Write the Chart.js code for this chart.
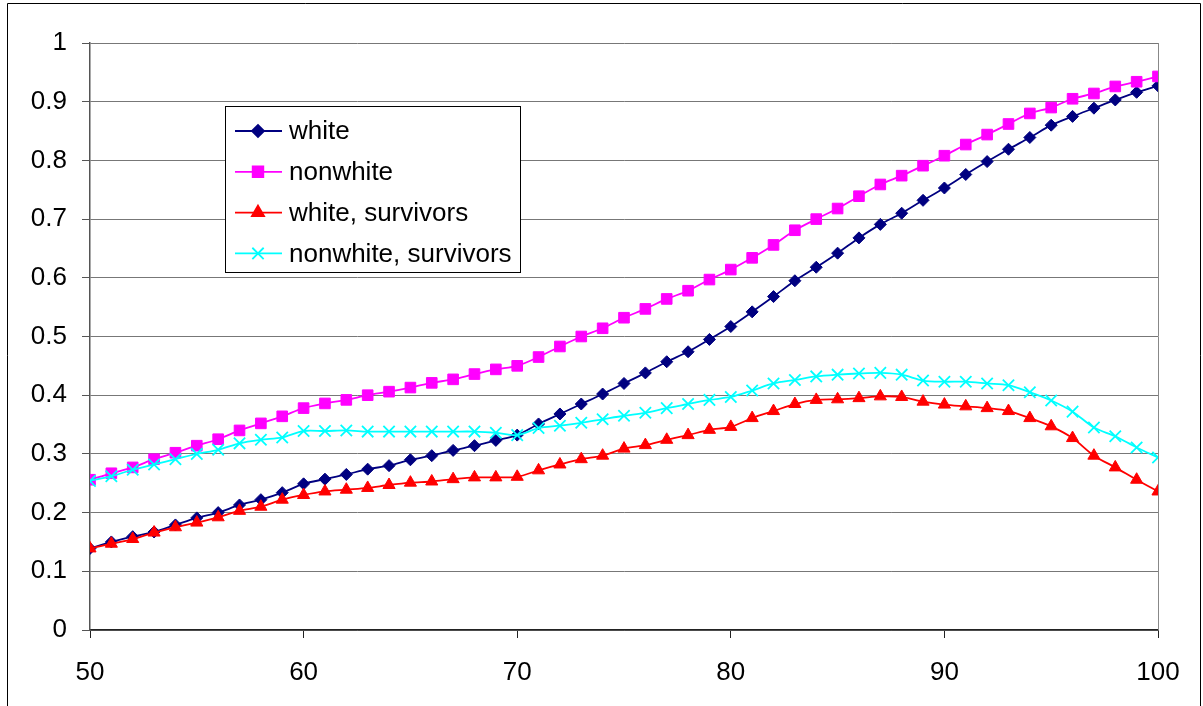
<!DOCTYPE html>
<html>
<head>
<meta charset="utf-8">
<script src="https://cdn.jsdelivr.net/npm/chart.js@4"></script>
<style>
  html, body { margin: 0; padding: 0; background: #fff; }
  canvas { display: block; }
</style>
</head>
<body>
<canvas id="chart" width="1203" height="706"></canvas>
<script>
// ages on the x axis
const ages = [
  50, 51, 52, 53, 54, 55, 56, 57, 58, 59,
  60, 61, 62, 63, 64, 65, 66, 67, 68, 69,
  70, 71, 72, 73, 74, 75, 76, 77, 78, 79,
  80, 81, 82, 83, 84, 85, 86, 87, 88, 89,
  90, 91, 92, 93, 94, 95, 96, 97, 98, 99, 100
]

const white = [
  0.139, 0.150, 0.159, 0.167, 0.179, 0.191, 0.200, 0.213, 0.222, 0.234,
  0.249, 0.257, 0.265, 0.274, 0.280, 0.290, 0.297, 0.306, 0.314, 0.323,
  0.332, 0.351, 0.368, 0.385, 0.402, 0.420, 0.438, 0.457, 0.474, 0.495,
  0.517, 0.542, 0.568, 0.595, 0.618, 0.642, 0.668, 0.691, 0.710, 0.732,
  0.753, 0.776, 0.798, 0.819, 0.839, 0.860, 0.875, 0.889, 0.903, 0.916, 0.927
]

const nonwhite = [
  0.256, 0.267, 0.277, 0.291, 0.302, 0.314, 0.325, 0.340, 0.352, 0.364,
  0.378, 0.386, 0.392, 0.400, 0.406, 0.413, 0.421, 0.427, 0.436, 0.444,
  0.450, 0.465, 0.483, 0.500, 0.514, 0.532, 0.547, 0.564, 0.578, 0.597,
  0.614, 0.634, 0.656, 0.681, 0.700, 0.718, 0.739, 0.759, 0.774, 0.791,
  0.808, 0.827, 0.844, 0.862, 0.880, 0.890, 0.905, 0.914, 0.926, 0.934, 0.943
]

const whiteSurvivors = [
  0.139, 0.147, 0.155, 0.166, 0.175, 0.183, 0.192, 0.203, 0.210, 0.222,
  0.230, 0.236, 0.239, 0.242, 0.247, 0.251, 0.253, 0.257, 0.260, 0.260,
  0.261, 0.272, 0.282, 0.291, 0.297, 0.309, 0.315, 0.324, 0.332, 0.341,
  0.346, 0.361, 0.373, 0.385, 0.392, 0.393, 0.395, 0.398, 0.397, 0.389,
  0.384, 0.381, 0.378, 0.373, 0.361, 0.347, 0.327, 0.297, 0.277, 0.256, 0.236
]

const nonwhiteSurvivors = [
  0.254, 0.262, 0.273, 0.282, 0.291, 0.300, 0.307, 0.318, 0.324, 0.328,
  0.339, 0.339, 0.340, 0.338, 0.338, 0.338, 0.338, 0.338, 0.338, 0.336,
  0.332, 0.344, 0.348, 0.353, 0.359, 0.365, 0.370, 0.378, 0.385, 0.392,
  0.397, 0.408, 0.420, 0.426, 0.432, 0.435, 0.437, 0.438, 0.435, 0.425,
  0.423, 0.423, 0.420, 0.417, 0.405, 0.391, 0.372, 0.345, 0.330, 0.311, 0.294
]

const FONT = 'Liberation Sans, Arial, sans-serif'

function pts(values) {
  return ages.map((a, i) => ({ x: a, y: values[i] }))
}

function serie(label, values, color, style, radius, order) {
  return {
    label: label,
    data: pts(values),
    borderColor: color,
    backgroundColor: color,
    pointBackgroundColor: color,
    pointBorderColor: color,
    borderWidth: 1.8,
    pointStyle: style,
    pointRadius: radius,
    pointBorderWidth: style === 'crossRot' ? 1.8 : 1,
    tension: 0.3,
    order: order
  }
}

// moldura externa, borda direita da área do gráfico e legenda
const extras = {
  id: 'extras',
  afterDraw(chart) {
    const ctx = chart.ctx
    const area = chart.chartArea
    ctx.save()

    ctx.strokeStyle = '#888'
    ctx.lineWidth = 1
    ctx.beginPath()
    ctx.moveTo(Math.round(area.right) + 0.5, area.top)
    ctx.lineTo(Math.round(area.right) + 0.5, area.bottom)
    ctx.stroke()

    ctx.strokeStyle = '#000'
    ctx.beginPath()
    ctx.moveTo(7.5, 710)
    ctx.lineTo(7.5, 3.5)
    ctx.lineTo(1200.5, 3.5)
    ctx.lineTo(1200.5, 710)
    ctx.stroke()

    // legenda
    ctx.fillStyle = '#fff'
    ctx.fillRect(225, 106, 295, 166)
    ctx.strokeStyle = '#000'
    ctx.strokeRect(225.5, 106.5, 295, 166)

    ctx.font = '26px ' + FONT
    ctx.textBaseline = 'middle'
    chart.data.datasets.forEach((ds, i) => {
      const y = 131 + i * 40.8
      ctx.strokeStyle = ds.borderColor
      ctx.fillStyle = ds.borderColor
      ctx.lineWidth = 1.8
      ctx.beginPath()
      ctx.moveTo(235, y)
      ctx.lineTo(282, y)
      ctx.stroke()
      Chart.helpers.drawPoint(ctx, {
        pointStyle: ds.pointStyle,
        radius: ds.pointRadius,
        rotation: 0,
        borderWidth: ds.pointBorderWidth
      }, 258, y)
      ctx.fillStyle = '#000'
      ctx.fillText(ds.label, 289, y + 1)
    })
    ctx.restore()
  }
}

const ctx = document.getElementById('chart').getContext('2d')
new Chart(ctx, {
  type: 'line',
  data: {
    datasets: [
      serie('white', white, '#000080', 'rectRot', 6, 3),
      serie('nonwhite', nonwhite, '#FF00FF', 'rect', 7.5, 2),
      serie('white, survivors', whiteSurvivors, '#FF0000', 'triangle', 7, 1),
      serie('nonwhite, survivors', nonwhiteSurvivors, '#00FFFF', 'crossRot', 8, 0)
    ]
  },
  options: {
    responsive: false,
    animation: false,
    devicePixelRatio: 1,
    layout: { padding: { top: 43, right: 45, left: 0, bottom: 0 } },
    plugins: {
      legend: { display: false },
      tooltip: { enabled: false }
    },
    scales: {
      x: {
        type: 'linear',
        min: 50,
        max: 100,
        ticks: {
          stepSize: 10,
          padding: 19,
          color: '#000',
          font: { family: FONT, size: 26 }
        },
        grid: {
          drawOnChartArea: false,
          drawTicks: true,
          tickLength: 8,
          color: '#222'
        },
        border: { color: '#222', width: 1.5 },
        afterFit(scale) { scale.height = 76 }
      },
      y: {
        min: 0,
        max: 1,
        ticks: {
          stepSize: 0.1,
          padding: 15,
          color: '#000',
          font: { family: FONT, size: 26 },
          callback: v => String(+v.toFixed(1))
        },
        grid: {
          color: '#777',
          tickLength: 8,
          tickColor: '#555'
        },
        border: { color: '#555', width: 1.5 },
        afterFit(scale) { scale.width = 90 }
      }
    }
  },
  plugins: [extras]
})
</script>
</body>
</html>
